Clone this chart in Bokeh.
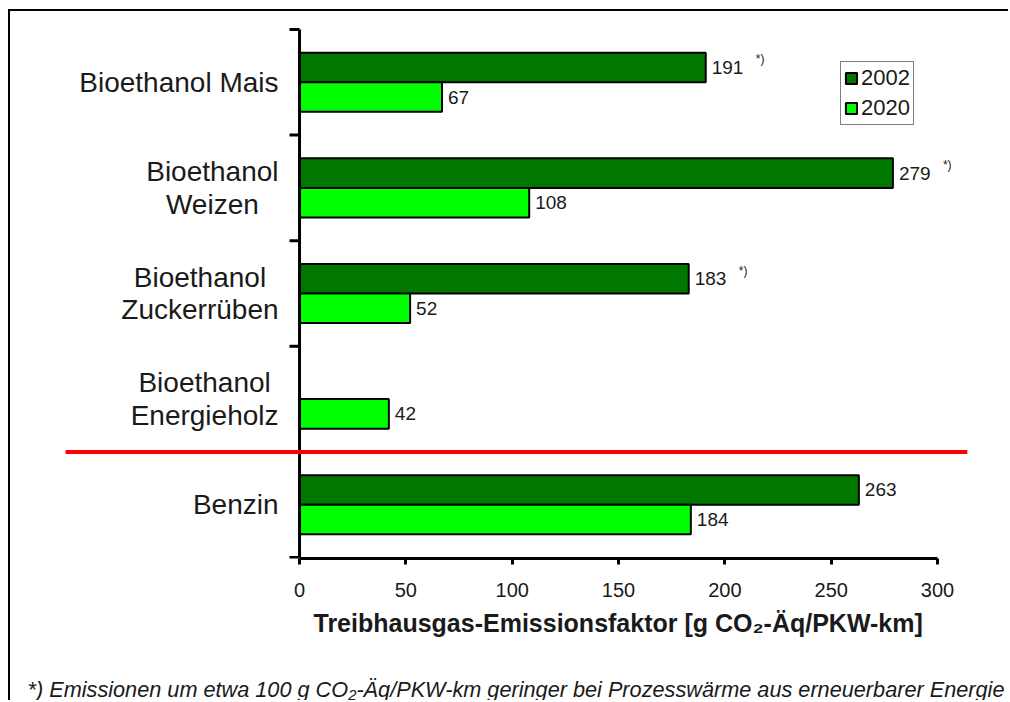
from bokeh.plotting import figure
from bokeh.models import (ColumnDataSource, Range1d, LinearAxis, FixedTicker,
                          Legend, LegendItem, Title)
from bokeh.core.properties import value
from bokeh.embed import file_html
from bokeh.resources import INLINE

# ---------------- data ----------------
categories = ["Bioethanol Mais", "Bioethanol\nWeizen", "Bioethanol\nZuckerrüben",
              "Bioethanol\nEnergieholz", "Benzin"]
values_2002 = [191, 279, 183, None, 263]
values_2020 = [67, 108, 52, 42, 184]
notes_2002 = ["*)", "*)", "*)", "", ""]
series_names = ["2002", "2020"]
x_ticks = [0, 50, 100, 150, 200, 250, 300]
x_tick_labels = ["0", "50", "100", "150", "200", "250", "300"]
x_title = "Treibhausgas-Emissionsfaktor [g CO₂-Äq/PKW-km]"
footnote = "*) Emissionen um etwa 100 g CO₂-Äq/PKW-km geringer bei Prozesswärme aus erneuerbarer Energie"
separator_after = 4          # red line between category 4 and 5 (Benzin)
separator_extent = (-110, 314)

# ---------------- styles ----------------
FONT = "Liberation Sans"
DARK = "#007800"
LIGHT = "#00FF00"
TXT = "#1a1a1a"

n = len(categories)
centers = [n - i - 0.5 for i in range(n)]
bar_h = 0.28
dodge = 0.14

p = figure(width=1000, height=691, output_backend="svg", toolbar_location=None,
           x_axis_type=None, y_axis_type=None,
           x_range=Range1d(-126.5, 324.9), y_range=Range1d(-0.0095, n + 0.085),
           min_border_left=20, min_border_right=20, min_border_top=9,
           min_border_bottom=144)
p.outline_line_color = None
p.background_fill_color = "white"
p.border_fill_color = "white"
p.styles = {"border-top": "2px solid black", "border-left": "2px solid black",
            "margin-left": "8px", "margin-top": "9px"}

# bars
src02 = ColumnDataSource(dict(
    y=[c + dodge for c, v in zip(centers, values_2002) if v is not None],
    v=[v for v in values_2002 if v is not None],
    t=[str(v) for v in values_2002 if v is not None],
    note=[nt for nt, v in zip(notes_2002, values_2002) if v is not None]))
src20 = ColumnDataSource(dict(
    y=[c - dodge for c in centers],
    v=values_2020,
    t=[str(v) for v in values_2020]))

r02 = p.hbar(y="y", right="v", left=0, height=bar_h, source=src02,
             fill_color=DARK, line_color="black", line_width=2)
r20 = p.hbar(y="y", right="v", left=0, height=bar_h, source=src20,
             fill_color=LIGHT, line_color="black", line_width=2)

# value labels
for src in (src02, src20):
    p.text(x="v", y="y", text="t", source=src, x_offset=6,
           text_align="left", text_baseline="middle",
           text_font=value(FONT), text_font_size="19px", text_color=TXT)
p.text(x="v", y="y", text="note", source=src02, x_offset=50, y_offset=-8,
       text_align="left", text_baseline="middle",
       text_font=value(FONT), text_font_size="12px", text_color=TXT)

# manual category (y) axis located at x = 0
boundaries = list(range(n + 1))
p.segment(x0=0, y0=0, x1=0, y1=n, line_color="black", line_width=3)
p.ray(x=[0] * len(boundaries), y=boundaries, length=10, length_units="screen",
      angle=3.14159265, line_color="black", line_width=3)
p.text(x=[0] * n, y=centers, text=categories, x_offset=-21,
       anchor="center_right", text_align="center", text_baseline="middle",
       text_line_height=1.05,
       text_font=value(FONT), text_font_size="28px", text_color=TXT)

# red separator
p.segment(x0=separator_extent[0], y0=n - separator_after,
          x1=separator_extent[1], y1=n - separator_after,
          line_color="#FF0000", line_width=4)

# x axis
xax = LinearAxis(bounds=(0, 300), ticker=FixedTicker(ticks=x_ticks, minor_ticks=[]),
                 major_label_overrides={t: l for t, l in zip(x_ticks, x_tick_labels)})
xax.axis_line_width = 3
xax.axis_line_color = "black"
xax.major_tick_line_width = 3
xax.major_tick_out = 6
xax.major_tick_in = 0
xax.minor_tick_line_color = None
xax.major_label_standoff = 18
xax.major_label_text_font = FONT
xax.major_label_text_font_size = "20px"
xax.major_label_text_color = TXT
p.add_layout(xax, "below")

# axis title (aligned over the 0..300 axis), spacer and footnote
p.add_layout(Title(text=x_title, align="left", offset=283, standoff=15,
                   text_font=FONT, text_font_size="25px", text_font_style="bold",
                   text_color=TXT), "below")
p.add_layout(Title(text=" ", align="left", standoff=11,
                   text_font=FONT, text_font_size="16px", text_color="white"), "below")
p.add_layout(Title(text=footnote, align="left", offset=-3, standoff=0,
                   text_font=FONT, text_font_size="21.7px", text_font_style="italic",
                   text_color=TXT), "below")

# legend
legend = Legend(items=[LegendItem(label=series_names[0], renderers=[r02]),
                       LegendItem(label=series_names[1], renderers=[r20])],
                location=(810, 433), orientation="vertical",
                border_line_color="black", border_line_width=1.5,
                background_fill_color="white", background_fill_alpha=1,
                padding=3, spacing=4, margin=0,
                glyph_width=14, glyph_height=14, label_standoff=3,
                label_text_font=FONT, label_text_font_size="22px",
                label_text_color=TXT)
p.add_layout(legend)

open("out.html", "w").write(file_html(p, INLINE))
